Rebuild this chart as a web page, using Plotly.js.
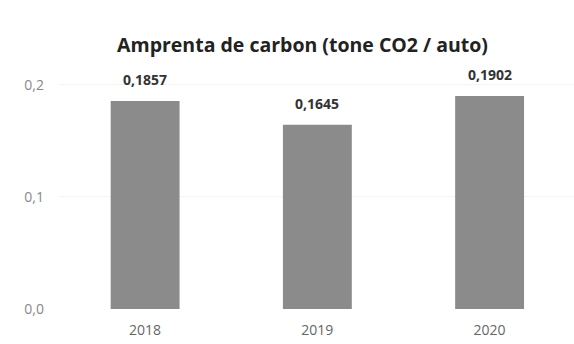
<!DOCTYPE html>
<html><head><meta charset="utf-8">
<script src="https://cdn.plot.ly/plotly-3.0.1.min.js"></script>
<style>html,body{margin:0;padding:0;background:#fff}#c{width:574px;height:344px}</style>
</head><body><div id="c"></div>
<script>
const years = ['2018', '2019', '2020'];
const values = [0.1857, 0.1645, 0.1902];
const labels = ['0,1857', '0,1645', '0,1902'];
const yTicks = [0, 0.1, 0.2];
const yTickText = ['0,0', '0,1', '0,2'];

const trace = {
  type: 'bar', x: years, y: values, width: 0.4,
  marker: {color: '#8b8b8b'}, hoverinfo: 'none'
};
const annotations = years.map((yr, i) => ({
  x: i, y: values[i], xref: 'x', yref: 'y', text: '<b>' + labels[i] + '</b>', showarrow: false,
  yanchor: 'bottom', yshift: 10,
  font: {family: 'Open Sans', size: 14, color: '#333'}
}));
const layout = {
  width: 574, height: 344,
  margin: {l: 59, r: 0, t: 34, b: 35},
  paper_bgcolor: '#fff', plot_bgcolor: '#fff',
  title: {text: '<b>Amprenta de carbon (tone CO2 / auto)</b>', x: 0.527, xanchor: 'center',
          y: 0.868, yanchor: 'middle', font: {family: 'Open Sans', size: 19.5, color: '#222'}},
  xaxis: {type: 'category', range: [-0.5, 2.49], showline: false, ticks: '', ticklabelstandoff: 11,
          tickfont: {family: 'Open Sans', size: 14, color: '#666'}},
  yaxis: {range: [0, 0.2455], tickvals: yTicks, ticktext: yTickText, showgrid: true,
          gridcolor: '#f4f4f4', zeroline: false, ticks: '', ticklabelstandoff: 14,
          tickfont: {family: 'Open Sans', size: 14, color: '#888'}},
  annotations: annotations, showlegend: false
};
Plotly.newPlot('c', [trace], layout, {staticPlot: true, displayModeBar: false});
</script></body></html>
